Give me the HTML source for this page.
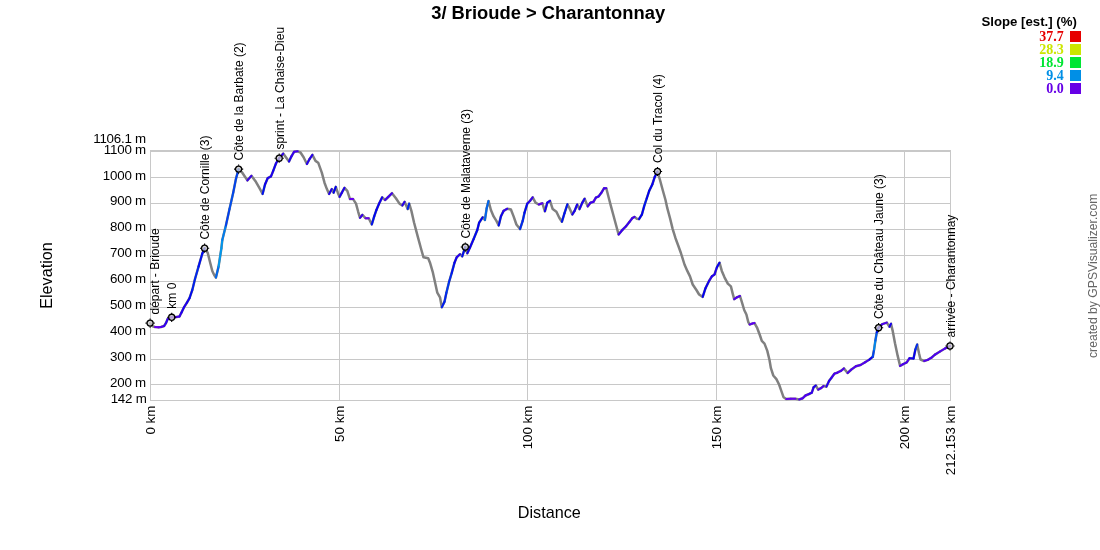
<!DOCTYPE html>
<html><head><meta charset="utf-8"><title>3/ Brioude &gt; Charantonnay</title>
<style>
html,body{margin:0;padding:0;background:#fff;}
body{width:1100px;height:550px;overflow:hidden;}
svg{display:block;}
text{font-family:"Liberation Sans",Arial,Helvetica,sans-serif;fill:#000;}
.t12{font-size:12px;}
.t13{font-size:13.33px;}
.lg{font-family:"Liberation Serif","Times New Roman",serif;font-weight:bold;font-size:14px;text-anchor:end;}
</style></head><body>
<svg width="1100" height="550" viewBox="0 0 1100 550">
<rect x="0" y="0" width="1100" height="550" fill="#fff"/>

<g stroke="#c8c8c8" stroke-width="1" fill="none" shape-rendering="crispEdges">
<line x1="150" y1="150.5" x2="951" y2="150.5"/>
<line x1="150" y1="151.5" x2="951" y2="151.5"/>
<line x1="150" y1="177.5" x2="951" y2="177.5"/>
<line x1="150" y1="203.5" x2="951" y2="203.5"/>
<line x1="150" y1="229.5" x2="951" y2="229.5"/>
<line x1="150" y1="255.5" x2="951" y2="255.5"/>
<line x1="150" y1="281.5" x2="951" y2="281.5"/>
<line x1="150" y1="307.5" x2="951" y2="307.5"/>
<line x1="150" y1="333.5" x2="951" y2="333.5"/>
<line x1="150" y1="359.5" x2="951" y2="359.5"/>
<line x1="150" y1="384.5" x2="951" y2="384.5"/>
<line x1="150" y1="400.5" x2="951" y2="400.5"/>
<line x1="150.5" y1="150" x2="150.5" y2="401"/>
<line x1="339.5" y1="150" x2="339.5" y2="401"/>
<line x1="527.5" y1="150" x2="527.5" y2="401"/>
<line x1="716.5" y1="150" x2="716.5" y2="401"/>
<line x1="904.5" y1="150" x2="904.5" y2="401"/>
<line x1="950.5" y1="150" x2="950.5" y2="401"/>
</g>
<g class="t13" text-anchor="end" letter-spacing="-0.22">
<text x="146.0" y="143.3">1106.1 m</text>
<text x="146.0" y="153.6">1100 m</text>
<text x="146.0" y="179.5">1000 m</text>
<text x="146.0" y="205.4">900 m</text>
<text x="146.0" y="231.4">800 m</text>
<text x="146.0" y="257.3">700 m</text>
<text x="146.0" y="283.2">600 m</text>
<text x="146.0" y="309.2">500 m</text>
<text x="146.0" y="335.1">400 m</text>
<text x="146.0" y="361.0">300 m</text>
<text x="146.0" y="387.0">200 m</text>
<text x="146.6" y="402.7">142 m</text>
</g>
<g class="t13" text-anchor="end">
<text transform="translate(155.0,405.6) rotate(-90)" x="0" y="0">0 km</text>
<text transform="translate(344.0,405.6) rotate(-90)" x="0" y="0">50 km</text>
<text transform="translate(532.0,405.6) rotate(-90)" x="0" y="0">100 km</text>
<text transform="translate(721.0,405.6) rotate(-90)" x="0" y="0">150 km</text>
<text transform="translate(909.0,405.6) rotate(-90)" x="0" y="0">200 km</text>
<text transform="translate(955.0,405.6) rotate(-90)" x="0" y="0">212.153 km</text>
</g>
<path d="M150.1 323.1 L152.6 326.2 L155.0 327.0 L158.6 327.3 L161.0 327.0 L164.1 326.0 L166.0 323.0 L167.7 319.0 L169.5 317.8 L171.7 317.3 L175.0 317.2 L179.5 316.4 L181.5 312.5 L184.0 307.3 L187.0 302.5 L189.5 298.2 L192.3 290.0 L195.0 279.0 L198.6 266.4 L202.3 253.6 L204.6 248.2 L207.7 252.7 L210.0 262.0 L212.3 271.0 L214.2 275.0 L215.9 277.6 L218.6 266.4 L221.4 248.2 L222.3 240.0 L225.9 225.5 L229.5 209.1 L233.2 192.7 L235.9 179.1 L238.6 169.1 L242.3 172.7 L247.4 180.4 L251.4 175.8 L255.9 181.8 L259.5 188.2 L262.6 194.0 L265.0 184.5 L267.7 178.2 L271.0 176.4 L273.2 170.9 L275.9 163.6 L279.2 158.2 L283.2 153.6 L285.9 157.3 L289.0 161.5 L291.4 156.4 L294.1 151.8 L297.7 151.3 L300.5 152.5 L303.6 157.3 L306.9 164.0 L309.5 159.1 L312.4 154.9 L315.5 160.9 L318.2 162.7 L321.8 172.7 L324.5 182.7 L326.9 189.1 L329.1 194.0 L331.8 189.1 L333.6 192.7 L335.8 186.9 L337.8 192.7 L339.6 196.9 L341.8 192.7 L344.5 187.8 L347.3 190.9 L350.0 199.1 L353.1 199.1 L356.0 203.6 L358.2 211.8 L360.0 217.8 L362.4 214.9 L365.5 218.2 L368.7 218.2 L371.8 224.5 L374.2 216.4 L376.4 210.0 L379.1 203.6 L382.2 197.3 L385.1 200.0 L388.2 197.0 L392.0 193.2 L395.9 198.2 L399.5 203.6 L402.3 205.5 L404.6 201.8 L407.7 209.1 L409.2 203.6 L411.4 210.9 L414.1 222.7 L417.7 236.4 L421.4 250.0 L423.5 257.3 L428.2 258.2 L430.0 262.7 L432.7 271.8 L435.5 284.5 L437.3 292.7 L440.0 297.3 L441.8 307.3 L444.5 301.8 L446.4 292.7 L449.1 281.8 L451.8 272.7 L454.5 262.7 L456.7 257.3 L460.0 254.2 L462.2 256.4 L465.3 247.0 L467.3 253.3 L470.0 247.5 L473.6 239.1 L477.3 230.0 L479.1 222.7 L482.7 217.3 L484.9 220.0 L486.7 208.2 L488.5 200.9 L490.9 210.0 L493.6 216.4 L496.4 220.9 L498.7 225.5 L500.9 216.4 L503.6 210.9 L507.3 208.7 L510.9 209.5 L513.6 216.4 L516.4 224.5 L520.0 229.1 L522.7 220.9 L524.5 212.7 L527.3 203.6 L530.0 200.9 L532.7 197.3 L535.5 202.7 L538.7 204.5 L542.4 203.3 L544.9 211.3 L547.3 202.7 L550.0 200.9 L552.7 209.1 L556.4 211.8 L559.3 217.8 L561.9 221.8 L564.5 213.2 L567.4 204.3 L569.5 208.2 L572.3 214.5 L574.6 210.9 L577.2 204.5 L579.5 209.1 L582.3 202.7 L584.6 198.7 L587.7 206.4 L590.5 202.7 L593.5 201.8 L595.9 197.6 L598.6 196.4 L601.4 192.7 L604.1 188.2 L606.3 188.2 L608.6 197.3 L611.0 206.4 L613.2 214.5 L615.9 224.5 L618.6 234.5 L622.3 230.0 L625.9 226.4 L629.5 221.8 L632.3 218.2 L634.6 216.9 L636.8 218.7 L639.0 219.1 L641.9 214.5 L644.1 206.4 L646.8 198.2 L649.2 190.9 L652.3 184.5 L654.6 177.3 L657.5 171.5 L660.0 180.0 L662.7 190.0 L665.5 200.0 L667.3 208.2 L670.0 218.2 L672.7 229.1 L675.5 238.2 L678.2 245.5 L680.9 253.0 L684.5 264.5 L687.3 270.9 L690.0 276.4 L692.7 284.5 L696.4 290.0 L699.1 294.5 L702.7 296.9 L705.5 288.2 L709.1 280.9 L711.8 276.4 L714.5 274.5 L716.9 267.3 L719.5 262.7 L721.8 270.9 L724.5 277.3 L727.8 283.6 L730.9 286.4 L732.7 293.6 L734.2 299.1 L736.9 297.3 L740.0 296.0 L741.8 301.8 L744.2 310.0 L746.4 314.5 L748.2 321.8 L749.6 324.5 L752.2 323.6 L754.5 323.1 L757.3 328.2 L760.0 335.5 L761.8 340.9 L764.5 343.6 L767.3 350.9 L769.5 360.0 L770.9 368.2 L773.3 375.5 L776.4 379.1 L779.1 384.5 L781.3 390.9 L783.6 397.3 L786.4 399.1 L790.9 398.7 L795.5 398.7 L799.1 399.5 L802.7 398.2 L805.5 395.5 L809.1 394.0 L811.8 392.7 L813.6 387.3 L815.8 385.5 L818.2 389.6 L820.9 388.2 L823.6 386.0 L826.4 386.7 L829.1 380.9 L831.8 377.3 L834.5 373.6 L837.3 372.7 L840.9 370.9 L843.9 368.4 L847.6 373.0 L851.4 369.5 L855.9 366.3 L860.5 365.0 L865.0 362.3 L869.5 359.5 L872.8 356.8 L874.1 349.5 L875.4 340.5 L876.8 332.3 L878.6 327.7 L882.3 324.1 L886.8 322.6 L889.5 326.8 L891.0 323.7 L892.8 331.4 L895.0 343.2 L897.7 355.9 L900.1 365.9 L903.2 364.1 L906.8 362.3 L909.5 358.3 L913.5 358.6 L915.4 349.5 L917.2 344.5 L919.0 353.2 L920.5 359.5 L924.1 361.0 L927.7 359.9 L931.4 357.7 L935.0 354.6 L940.0 351.5 L945.0 348.5 L950.0 346.0" fill="none" stroke="#808080" stroke-width="2.5" stroke-linejoin="round" stroke-linecap="round"/>
<path d="M155.0 327.0 L158.6 327.3" fill="none" stroke="#6700ef" stroke-width="2" stroke-linecap="round"/>
<path d="M158.6 327.3 L161.0 327.0" fill="none" stroke="#6300ef" stroke-width="2" stroke-linecap="round"/>
<path d="M161.0 327.0 L164.1 326.0" fill="none" stroke="#4d00ef" stroke-width="2" stroke-linecap="round"/>
<path d="M164.1 326.0 L166.0 323.0" fill="none" stroke="#3000ef" stroke-width="2" stroke-linecap="round"/>
<path d="M166.0 323.0 L167.7 319.0" fill="none" stroke="#2c00ef" stroke-width="2" stroke-linecap="round"/>
<path d="M167.7 319.0 L169.5 317.8" fill="none" stroke="#3d00ef" stroke-width="2" stroke-linecap="round"/>
<path d="M169.5 317.8 L171.7 317.3" fill="none" stroke="#5b00ef" stroke-width="2" stroke-linecap="round"/>
<path d="M171.7 317.3 L175.0 317.2" fill="none" stroke="#6200ef" stroke-width="2" stroke-linecap="round"/>
<path d="M175.0 317.2 L179.5 316.4" fill="none" stroke="#4b00ef" stroke-width="2" stroke-linecap="round"/>
<path d="M179.5 316.4 L181.5 312.5" fill="none" stroke="#3100ef" stroke-width="2" stroke-linecap="round"/>
<path d="M181.5 312.5 L184.0 307.3" fill="none" stroke="#1e00ef" stroke-width="2" stroke-linecap="round"/>
<path d="M184.0 307.3 L187.0 302.5" fill="none" stroke="#2100ef" stroke-width="2" stroke-linecap="round"/>
<path d="M187.0 302.5 L189.5 298.2" fill="none" stroke="#1600ef" stroke-width="2" stroke-linecap="round"/>
<path d="M189.5 298.2 L192.3 290.0" fill="none" stroke="#0009ef" stroke-width="2" stroke-linecap="round"/>
<path d="M192.3 290.0 L195.0 279.0" fill="none" stroke="#0020ef" stroke-width="2" stroke-linecap="round"/>
<path d="M195.0 279.0 L198.6 266.4" fill="none" stroke="#0027ef" stroke-width="2" stroke-linecap="round"/>
<path d="M198.6 266.4 L202.3 253.6" fill="none" stroke="#0010ef" stroke-width="2" stroke-linecap="round"/>
<path d="M202.3 253.6 L204.6 248.2" fill="none" stroke="#0009ef" stroke-width="2" stroke-linecap="round"/>
<path d="M215.9 277.6 L218.6 266.4" fill="none" stroke="#0067ef" stroke-width="2" stroke-linecap="round"/>
<path d="M218.6 266.4 L221.4 248.2" fill="none" stroke="#0099ef" stroke-width="2" stroke-linecap="round"/>
<path d="M221.4 248.2 L222.3 240.0" fill="none" stroke="#0097ef" stroke-width="2" stroke-linecap="round"/>
<path d="M222.3 240.0 L225.9 225.5" fill="none" stroke="#007def" stroke-width="2" stroke-linecap="round"/>
<path d="M225.9 225.5 L229.5 209.1" fill="none" stroke="#0041ef" stroke-width="2" stroke-linecap="round"/>
<path d="M229.5 209.1 L233.2 192.7" fill="none" stroke="#004eef" stroke-width="2" stroke-linecap="round"/>
<path d="M233.2 192.7 L235.9 179.1" fill="none" stroke="#0043ef" stroke-width="2" stroke-linecap="round"/>
<path d="M235.9 179.1 L238.6 169.1" fill="none" stroke="#0042ef" stroke-width="2" stroke-linecap="round"/>
<path d="M247.4 180.4 L251.4 175.8" fill="none" stroke="#3b00ef" stroke-width="2" stroke-linecap="round"/>
<path d="M262.6 194.0 L265.0 184.5" fill="none" stroke="#0012ef" stroke-width="2" stroke-linecap="round"/>
<path d="M265.0 184.5 L267.7 178.2" fill="none" stroke="#0f00ef" stroke-width="2" stroke-linecap="round"/>
<path d="M267.7 178.2 L271.0 176.4" fill="none" stroke="#2200ef" stroke-width="2" stroke-linecap="round"/>
<path d="M271.0 176.4 L273.2 170.9" fill="none" stroke="#1d00ef" stroke-width="2" stroke-linecap="round"/>
<path d="M273.2 170.9 L275.9 163.6" fill="none" stroke="#0f00ef" stroke-width="2" stroke-linecap="round"/>
<path d="M275.9 163.6 L279.2 158.2" fill="none" stroke="#2000ef" stroke-width="2" stroke-linecap="round"/>
<path d="M279.2 158.2 L283.2 153.6" fill="none" stroke="#3100ef" stroke-width="2" stroke-linecap="round"/>
<path d="M289.0 161.5 L291.4 156.4" fill="none" stroke="#1d00ef" stroke-width="2" stroke-linecap="round"/>
<path d="M291.4 156.4 L294.1 151.8" fill="none" stroke="#3400ef" stroke-width="2" stroke-linecap="round"/>
<path d="M294.1 151.8 L297.7 151.3" fill="none" stroke="#4300ef" stroke-width="2" stroke-linecap="round"/>
<path d="M306.9 164.0 L309.5 159.1" fill="none" stroke="#2600ef" stroke-width="2" stroke-linecap="round"/>
<path d="M309.5 159.1 L312.4 154.9" fill="none" stroke="#2600ef" stroke-width="2" stroke-linecap="round"/>
<path d="M329.1 194.0 L331.8 189.1" fill="none" stroke="#2100ef" stroke-width="2" stroke-linecap="round"/>
<path d="M333.6 192.7 L335.8 186.9" fill="none" stroke="#0100ef" stroke-width="2" stroke-linecap="round"/>
<path d="M339.6 196.9 L341.8 192.7" fill="none" stroke="#1f00ef" stroke-width="2" stroke-linecap="round"/>
<path d="M341.8 192.7 L344.5 187.8" fill="none" stroke="#1f00ef" stroke-width="2" stroke-linecap="round"/>
<path d="M350.0 199.1 L353.1 199.1" fill="none" stroke="#6700ef" stroke-width="2" stroke-linecap="round"/>
<path d="M360.0 217.8 L362.4 214.9" fill="none" stroke="#3800ef" stroke-width="2" stroke-linecap="round"/>
<path d="M365.5 218.2 L368.7 218.2" fill="none" stroke="#6700ef" stroke-width="2" stroke-linecap="round"/>
<path d="M371.8 224.5 L374.2 216.4" fill="none" stroke="#0012ef" stroke-width="2" stroke-linecap="round"/>
<path d="M374.2 216.4 L376.4 210.0" fill="none" stroke="#0008ef" stroke-width="2" stroke-linecap="round"/>
<path d="M376.4 210.0 L379.1 203.6" fill="none" stroke="#0800ef" stroke-width="2" stroke-linecap="round"/>
<path d="M379.1 203.6 L382.2 197.3" fill="none" stroke="#1200ef" stroke-width="2" stroke-linecap="round"/>
<path d="M385.1 200.0 L388.2 197.0" fill="none" stroke="#4100ef" stroke-width="2" stroke-linecap="round"/>
<path d="M388.2 197.0 L392.0 193.2" fill="none" stroke="#4100ef" stroke-width="2" stroke-linecap="round"/>
<path d="M402.3 205.5 L404.6 201.8" fill="none" stroke="#2900ef" stroke-width="2" stroke-linecap="round"/>
<path d="M407.7 209.1 L409.2 203.6" fill="none" stroke="#0026ef" stroke-width="2" stroke-linecap="round"/>
<path d="M441.8 307.3 L444.5 301.8" fill="none" stroke="#001def" stroke-width="2" stroke-linecap="round"/>
<path d="M444.5 301.8 L446.4 292.7" fill="none" stroke="#0025ef" stroke-width="2" stroke-linecap="round"/>
<path d="M446.4 292.7 L449.1 281.8" fill="none" stroke="#0036ef" stroke-width="2" stroke-linecap="round"/>
<path d="M449.1 281.8 L451.8 272.7" fill="none" stroke="#0028ef" stroke-width="2" stroke-linecap="round"/>
<path d="M451.8 272.7 L454.5 262.7" fill="none" stroke="#0013ef" stroke-width="2" stroke-linecap="round"/>
<path d="M454.5 262.7 L456.7 257.3" fill="none" stroke="#0b00ef" stroke-width="2" stroke-linecap="round"/>
<path d="M456.7 257.3 L460.0 254.2" fill="none" stroke="#2500ef" stroke-width="2" stroke-linecap="round"/>
<path d="M462.2 256.4 L465.3 247.0" fill="none" stroke="#000eef" stroke-width="2" stroke-linecap="round"/>
<path d="M467.3 253.3 L470.0 247.5" fill="none" stroke="#1000ef" stroke-width="2" stroke-linecap="round"/>
<path d="M470.0 247.5 L473.6 239.1" fill="none" stroke="#0d00ef" stroke-width="2" stroke-linecap="round"/>
<path d="M473.6 239.1 L477.3 230.0" fill="none" stroke="#000bef" stroke-width="2" stroke-linecap="round"/>
<path d="M477.3 230.0 L479.1 222.7" fill="none" stroke="#0000ef" stroke-width="2" stroke-linecap="round"/>
<path d="M479.1 222.7 L482.7 217.3" fill="none" stroke="#0004ef" stroke-width="2" stroke-linecap="round"/>
<path d="M484.9 220.0 L486.7 208.2" fill="none" stroke="#0066ef" stroke-width="2" stroke-linecap="round"/>
<path d="M486.7 208.2 L488.5 200.9" fill="none" stroke="#0066ef" stroke-width="2" stroke-linecap="round"/>
<path d="M498.7 225.5 L500.9 216.4" fill="none" stroke="#0010ef" stroke-width="2" stroke-linecap="round"/>
<path d="M500.9 216.4 L503.6 210.9" fill="none" stroke="#0f00ef" stroke-width="2" stroke-linecap="round"/>
<path d="M503.6 210.9 L507.3 208.7" fill="none" stroke="#3400ef" stroke-width="2" stroke-linecap="round"/>
<path d="M520.0 229.1 L522.7 220.9" fill="none" stroke="#002cef" stroke-width="2" stroke-linecap="round"/>
<path d="M522.7 220.9 L524.5 212.7" fill="none" stroke="#0024ef" stroke-width="2" stroke-linecap="round"/>
<path d="M524.5 212.7 L527.3 203.6" fill="none" stroke="#000aef" stroke-width="2" stroke-linecap="round"/>
<path d="M527.3 203.6 L530.0 200.9" fill="none" stroke="#1f00ef" stroke-width="2" stroke-linecap="round"/>
<path d="M530.0 200.9 L532.7 197.3" fill="none" stroke="#3a00ef" stroke-width="2" stroke-linecap="round"/>
<path d="M538.7 204.5 L542.4 203.3" fill="none" stroke="#5b00ef" stroke-width="2" stroke-linecap="round"/>
<path d="M544.9 211.3 L547.3 202.7" fill="none" stroke="#1500ef" stroke-width="2" stroke-linecap="round"/>
<path d="M547.3 202.7 L550.0 200.9" fill="none" stroke="#1500ef" stroke-width="2" stroke-linecap="round"/>
<path d="M561.9 221.8 L564.5 213.2" fill="none" stroke="#0014ef" stroke-width="2" stroke-linecap="round"/>
<path d="M564.5 213.2 L567.4 204.3" fill="none" stroke="#0014ef" stroke-width="2" stroke-linecap="round"/>
<path d="M572.3 214.5 L574.6 210.9" fill="none" stroke="#1900ef" stroke-width="2" stroke-linecap="round"/>
<path d="M574.6 210.9 L577.2 204.5" fill="none" stroke="#1900ef" stroke-width="2" stroke-linecap="round"/>
<path d="M579.5 209.1 L582.3 202.7" fill="none" stroke="#1900ef" stroke-width="2" stroke-linecap="round"/>
<path d="M582.3 202.7 L584.6 198.7" fill="none" stroke="#1900ef" stroke-width="2" stroke-linecap="round"/>
<path d="M587.7 206.4 L590.5 202.7" fill="none" stroke="#4800ef" stroke-width="2" stroke-linecap="round"/>
<path d="M590.5 202.7 L593.5 201.8" fill="none" stroke="#3c00ef" stroke-width="2" stroke-linecap="round"/>
<path d="M593.5 201.8 L595.9 197.6" fill="none" stroke="#4700ef" stroke-width="2" stroke-linecap="round"/>
<path d="M595.9 197.6 L598.6 196.4" fill="none" stroke="#3a00ef" stroke-width="2" stroke-linecap="round"/>
<path d="M598.6 196.4 L601.4 192.7" fill="none" stroke="#3b00ef" stroke-width="2" stroke-linecap="round"/>
<path d="M601.4 192.7 L604.1 188.2" fill="none" stroke="#4100ef" stroke-width="2" stroke-linecap="round"/>
<path d="M604.1 188.2 L606.3 188.2" fill="none" stroke="#4700ef" stroke-width="2" stroke-linecap="round"/>
<path d="M618.6 234.5 L622.3 230.0" fill="none" stroke="#3c00ef" stroke-width="2" stroke-linecap="round"/>
<path d="M622.3 230.0 L625.9 226.4" fill="none" stroke="#3a00ef" stroke-width="2" stroke-linecap="round"/>
<path d="M625.9 226.4 L629.5 221.8" fill="none" stroke="#3900ef" stroke-width="2" stroke-linecap="round"/>
<path d="M629.5 221.8 L632.3 218.2" fill="none" stroke="#3f00ef" stroke-width="2" stroke-linecap="round"/>
<path d="M632.3 218.2 L634.6 216.9" fill="none" stroke="#4300ef" stroke-width="2" stroke-linecap="round"/>
<path d="M639.0 219.1 L641.9 214.5" fill="none" stroke="#0100ef" stroke-width="2" stroke-linecap="round"/>
<path d="M641.9 214.5 L644.1 206.4" fill="none" stroke="#0003ef" stroke-width="2" stroke-linecap="round"/>
<path d="M644.1 206.4 L646.8 198.2" fill="none" stroke="#0016ef" stroke-width="2" stroke-linecap="round"/>
<path d="M646.8 198.2 L649.2 190.9" fill="none" stroke="#0001ef" stroke-width="2" stroke-linecap="round"/>
<path d="M649.2 190.9 L652.3 184.5" fill="none" stroke="#0003ef" stroke-width="2" stroke-linecap="round"/>
<path d="M652.3 184.5 L654.6 177.3" fill="none" stroke="#0a00ef" stroke-width="2" stroke-linecap="round"/>
<path d="M654.6 177.3 L657.5 171.5" fill="none" stroke="#0300ef" stroke-width="2" stroke-linecap="round"/>
<path d="M702.7 296.9 L705.5 288.2" fill="none" stroke="#0300ef" stroke-width="2" stroke-linecap="round"/>
<path d="M705.5 288.2 L709.1 280.9" fill="none" stroke="#0f00ef" stroke-width="2" stroke-linecap="round"/>
<path d="M709.1 280.9 L711.8 276.4" fill="none" stroke="#2e00ef" stroke-width="2" stroke-linecap="round"/>
<path d="M711.8 276.4 L714.5 274.5" fill="none" stroke="#2200ef" stroke-width="2" stroke-linecap="round"/>
<path d="M714.5 274.5 L716.9 267.3" fill="none" stroke="#2000ef" stroke-width="2" stroke-linecap="round"/>
<path d="M716.9 267.3 L719.5 262.7" fill="none" stroke="#0a00ef" stroke-width="2" stroke-linecap="round"/>
<path d="M734.2 299.1 L736.9 297.3" fill="none" stroke="#5200ef" stroke-width="2" stroke-linecap="round"/>
<path d="M736.9 297.3 L740.0 296.0" fill="none" stroke="#5200ef" stroke-width="2" stroke-linecap="round"/>
<path d="M749.6 324.5 L752.2 323.6" fill="none" stroke="#5c00ef" stroke-width="2" stroke-linecap="round"/>
<path d="M752.2 323.6 L754.5 323.1" fill="none" stroke="#5c00ef" stroke-width="2" stroke-linecap="round"/>
<path d="M786.4 399.1 L790.9 398.7" fill="none" stroke="#6600ef" stroke-width="2" stroke-linecap="round"/>
<path d="M790.9 398.7 L795.5 398.7" fill="none" stroke="#6600ef" stroke-width="2" stroke-linecap="round"/>
<path d="M799.1 399.5 L802.7 398.2" fill="none" stroke="#4e00ef" stroke-width="2" stroke-linecap="round"/>
<path d="M802.7 398.2 L805.5 395.5" fill="none" stroke="#5100ef" stroke-width="2" stroke-linecap="round"/>
<path d="M805.5 395.5 L809.1 394.0" fill="none" stroke="#4f00ef" stroke-width="2" stroke-linecap="round"/>
<path d="M809.1 394.0 L811.8 392.7" fill="none" stroke="#3500ef" stroke-width="2" stroke-linecap="round"/>
<path d="M811.8 392.7 L813.6 387.3" fill="none" stroke="#3000ef" stroke-width="2" stroke-linecap="round"/>
<path d="M813.6 387.3 L815.8 385.5" fill="none" stroke="#1d00ef" stroke-width="2" stroke-linecap="round"/>
<path d="M818.2 389.6 L820.9 388.2" fill="none" stroke="#4d00ef" stroke-width="2" stroke-linecap="round"/>
<path d="M820.9 388.2 L823.6 386.0" fill="none" stroke="#4d00ef" stroke-width="2" stroke-linecap="round"/>
<path d="M826.4 386.7 L829.1 380.9" fill="none" stroke="#2400ef" stroke-width="2" stroke-linecap="round"/>
<path d="M829.1 380.9 L831.8 377.3" fill="none" stroke="#2800ef" stroke-width="2" stroke-linecap="round"/>
<path d="M831.8 377.3 L834.5 373.6" fill="none" stroke="#4000ef" stroke-width="2" stroke-linecap="round"/>
<path d="M834.5 373.6 L837.3 372.7" fill="none" stroke="#4b00ef" stroke-width="2" stroke-linecap="round"/>
<path d="M837.3 372.7 L840.9 370.9" fill="none" stroke="#5200ef" stroke-width="2" stroke-linecap="round"/>
<path d="M840.9 370.9 L843.9 368.4" fill="none" stroke="#4d00ef" stroke-width="2" stroke-linecap="round"/>
<path d="M847.6 373.0 L851.4 369.5" fill="none" stroke="#4800ef" stroke-width="2" stroke-linecap="round"/>
<path d="M851.4 369.5 L855.9 366.3" fill="none" stroke="#4f00ef" stroke-width="2" stroke-linecap="round"/>
<path d="M855.9 366.3 L860.5 365.0" fill="none" stroke="#5300ef" stroke-width="2" stroke-linecap="round"/>
<path d="M860.5 365.0 L865.0 362.3" fill="none" stroke="#5400ef" stroke-width="2" stroke-linecap="round"/>
<path d="M865.0 362.3 L869.5 359.5" fill="none" stroke="#4d00ef" stroke-width="2" stroke-linecap="round"/>
<path d="M869.5 359.5 L872.8 356.8" fill="none" stroke="#0c00ef" stroke-width="2" stroke-linecap="round"/>
<path d="M872.8 356.8 L874.1 349.5" fill="none" stroke="#0045ef" stroke-width="2" stroke-linecap="round"/>
<path d="M874.1 349.5 L875.4 340.5" fill="none" stroke="#0087ef" stroke-width="2" stroke-linecap="round"/>
<path d="M875.4 340.5 L876.8 332.3" fill="none" stroke="#005fef" stroke-width="2" stroke-linecap="round"/>
<path d="M876.8 332.3 L878.6 327.7" fill="none" stroke="#0012ef" stroke-width="2" stroke-linecap="round"/>
<path d="M878.6 327.7 L882.3 324.1" fill="none" stroke="#3500ef" stroke-width="2" stroke-linecap="round"/>
<path d="M882.3 324.1 L886.8 322.6" fill="none" stroke="#4e00ef" stroke-width="2" stroke-linecap="round"/>
<path d="M889.5 326.8 L891.0 323.7" fill="none" stroke="#1700ef" stroke-width="2" stroke-linecap="round"/>
<path d="M900.1 365.9 L903.2 364.1" fill="none" stroke="#5200ef" stroke-width="2" stroke-linecap="round"/>
<path d="M903.2 364.1 L906.8 362.3" fill="none" stroke="#4600ef" stroke-width="2" stroke-linecap="round"/>
<path d="M906.8 362.3 L909.5 358.3" fill="none" stroke="#4f00ef" stroke-width="2" stroke-linecap="round"/>
<path d="M909.5 358.3 L913.5 358.6" fill="none" stroke="#1700ef" stroke-width="2" stroke-linecap="round"/>
<path d="M913.5 358.6 L915.4 349.5" fill="none" stroke="#0600ef" stroke-width="2" stroke-linecap="round"/>
<path d="M915.4 349.5 L917.2 344.5" fill="none" stroke="#002bef" stroke-width="2" stroke-linecap="round"/>
<path d="M924.1 361.0 L927.7 359.9" fill="none" stroke="#5600ef" stroke-width="2" stroke-linecap="round"/>
<path d="M927.7 359.9 L931.4 357.7" fill="none" stroke="#5000ef" stroke-width="2" stroke-linecap="round"/>
<path d="M931.4 357.7 L935.0 354.6" fill="none" stroke="#4c00ef" stroke-width="2" stroke-linecap="round"/>
<path d="M935.0 354.6 L940.0 351.5" fill="none" stroke="#4c00ef" stroke-width="2" stroke-linecap="round"/>
<path d="M940.0 351.5 L945.0 348.5" fill="none" stroke="#5100ef" stroke-width="2" stroke-linecap="round"/>
<path d="M945.0 348.5 L950.0 346.0" fill="none" stroke="#5200ef" stroke-width="2" stroke-linecap="round"/>
<g transform="translate(150.1,323.1)"><circle r="3.05" fill="rgba(205,205,205,0.75)" stroke="#000" stroke-width="1.3"/><path d="M0 -4.6V-3.3M0 4.6V3.3M-4.6 0H-3.3M4.6 0H3.3" stroke="#000" stroke-width="1.1"/></g>
<text class="t12" transform="translate(159.3,314.5) rotate(-90)">départ - Brioude</text>
<g transform="translate(171.7,317.3)"><circle r="3.05" fill="rgba(205,205,205,0.75)" stroke="#000" stroke-width="1.3"/><path d="M0 -4.6V-3.3M0 4.6V3.3M-4.6 0H-3.3M4.6 0H3.3" stroke="#000" stroke-width="1.1"/></g>
<text class="t12" transform="translate(176.2,308.7) rotate(-90)">km 0</text>
<g transform="translate(204.6,248.2)"><circle r="3.05" fill="rgba(205,205,205,0.75)" stroke="#000" stroke-width="1.3"/><path d="M0 -4.6V-3.3M0 4.6V3.3M-4.6 0H-3.3M4.6 0H3.3" stroke="#000" stroke-width="1.1"/></g>
<text class="t12" transform="translate(209.1,239.6) rotate(-90)">Côte de Cornille (3)</text>
<g transform="translate(238.6,169.1)"><circle r="3.05" fill="rgba(205,205,205,0.75)" stroke="#000" stroke-width="1.3"/><path d="M0 -4.6V-3.3M0 4.6V3.3M-4.6 0H-3.3M4.6 0H3.3" stroke="#000" stroke-width="1.1"/></g>
<text class="t12" transform="translate(243.1,160.5) rotate(-90)">Côte de la Barbate (2)</text>
<g transform="translate(279.2,158.2)"><circle r="3.05" fill="rgba(205,205,205,0.75)" stroke="#000" stroke-width="1.3"/><path d="M0 -4.6V-3.3M0 4.6V3.3M-4.6 0H-3.3M4.6 0H3.3" stroke="#000" stroke-width="1.1"/></g>
<text class="t12" transform="translate(283.7,149.6) rotate(-90)">sprint - La Chaise-Dieu</text>
<g transform="translate(465.3,247.0)"><circle r="3.05" fill="rgba(205,205,205,0.75)" stroke="#000" stroke-width="1.3"/><path d="M0 -4.6V-3.3M0 4.6V3.3M-4.6 0H-3.3M4.6 0H3.3" stroke="#000" stroke-width="1.1"/></g>
<text class="t12" transform="translate(469.8,238.4) rotate(-90)">Côte de Malataverne (3)</text>
<g transform="translate(657.5,171.5)"><circle r="3.05" fill="rgba(205,205,205,0.75)" stroke="#000" stroke-width="1.3"/><path d="M0 -4.6V-3.3M0 4.6V3.3M-4.6 0H-3.3M4.6 0H3.3" stroke="#000" stroke-width="1.1"/></g>
<text class="t12" transform="translate(662.0,162.9) rotate(-90)">Col du Tracol (4)</text>
<g transform="translate(878.6,327.7)"><circle r="3.05" fill="rgba(205,205,205,0.75)" stroke="#000" stroke-width="1.3"/><path d="M0 -4.6V-3.3M0 4.6V3.3M-4.6 0H-3.3M4.6 0H3.3" stroke="#000" stroke-width="1.1"/></g>
<text class="t12" transform="translate(883.1,319.1) rotate(-90)">Côte du Château Jaune (3)</text>
<g transform="translate(950.0,346.0)"><circle r="3.05" fill="rgba(205,205,205,0.75)" stroke="#000" stroke-width="1.3"/><path d="M0 -4.6V-3.3M0 4.6V3.3M-4.6 0H-3.3M4.6 0H3.3" stroke="#000" stroke-width="1.1"/></g>
<text class="t12" transform="translate(954.5,337.4) rotate(-90)">arrivée - Charantonnay</text>
<text x="431.2" y="18.8" font-size="18.35" font-weight="bold">3/ Brioude &gt; Charantonnay</text>
<text transform="translate(52,275.5) rotate(-90)" text-anchor="middle" font-size="16.2">Elevation</text>
<text x="549.3" y="517.8" text-anchor="middle" font-size="16.2">Distance</text>
<text transform="translate(1097,275.8) rotate(-90)" text-anchor="middle" font-size="12.2" style="fill:#666">created by GPSVisualizer.com</text>
<text x="1076.8" y="25.7" text-anchor="end" font-size="13.2" font-weight="bold">Slope [est.] (%)</text>
<rect x="1070" y="31" width="11" height="11" fill="#e60000"/>
<text class="lg" x="1063.8" y="40.7" style="fill:#e60000">37.7</text>
<rect x="1070" y="44" width="11" height="11" fill="#cce600"/>
<text class="lg" x="1063.8" y="53.7" style="fill:#cce600">28.3</text>
<rect x="1070" y="57" width="11" height="11" fill="#00e633"/>
<text class="lg" x="1063.8" y="66.7" style="fill:#00e633">18.9</text>
<rect x="1070" y="70" width="11" height="11" fill="#008fe6"/>
<text class="lg" x="1063.8" y="79.7" style="fill:#008fe6">9.4</text>
<rect x="1070" y="83" width="11" height="11" fill="#6600e6"/>
<text class="lg" x="1063.8" y="92.7" style="fill:#6600e6">0.0</text>
</svg></body></html>
